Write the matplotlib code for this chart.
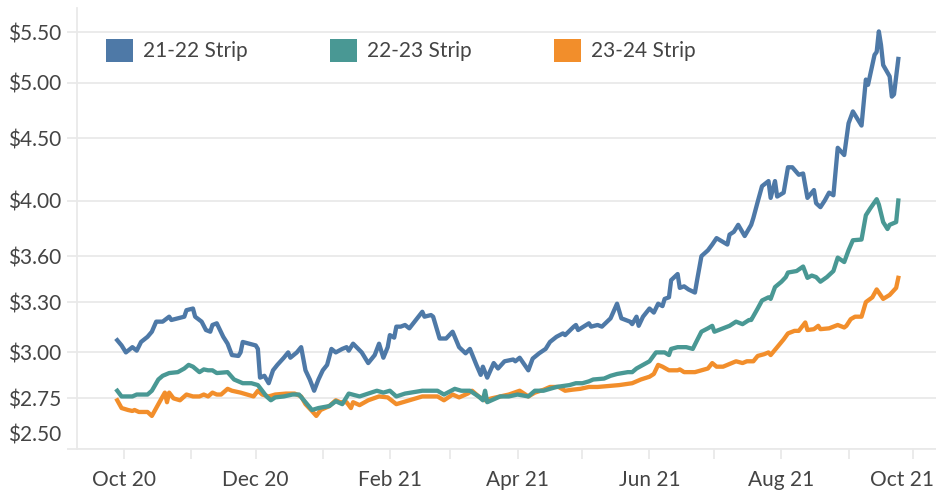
import numpy as np
import pandas as pd
import matplotlib
matplotlib.use('Agg')
import matplotlib.pyplot as plt
import matplotlib.dates as mdates
from matplotlib.patches import Patch
from matplotlib.ticker import FixedLocator, FuncFormatter, NullLocator
from matplotlib.transforms import ScaledTranslation

# 21-22 strip
daty_2122 = ['2020-09-28', '2020-09-30', '2020-10-02', '2020-10-05', '2020-10-07', '2020-10-09',
             '2020-10-12', '2020-10-14', '2020-10-16', '2020-10-19', '2020-10-22', '2020-10-23',
             '2020-10-26', '2020-10-29', '2020-10-30', '2020-11-02', '2020-11-03', '2020-11-06',
             '2020-11-08', '2020-11-10', '2020-11-11', '2020-11-13', '2020-11-16', '2020-11-18',
             '2020-11-20', '2020-11-23', '2020-11-24', '2020-11-25', '2020-11-28', '2020-12-01',
             '2020-12-02', '2020-12-03', '2020-12-05', '2020-12-07', '2020-12-09', '2020-12-11',
             '2020-12-14', '2020-12-16', '2020-12-17', '2020-12-20', '2020-12-22', '2020-12-24',
             '2020-12-26', '2020-12-28', '2020-12-30', '2021-01-01', '2021-01-03', '2021-01-05',
             '2021-01-07', '2021-01-10', '2021-01-12', '2021-01-13', '2021-01-15', '2021-01-19',
             '2021-01-22', '2021-01-25', '2021-01-27', '2021-01-29', '2021-01-31', '2021-02-01',
             '2021-02-03', '2021-02-04', '2021-02-06', '2021-02-08', '2021-02-10', '2021-02-13',
             '2021-02-16', '2021-02-17', '2021-02-20', '2021-02-21', '2021-02-24', '2021-02-27',
             '2021-03-02', '2021-03-05', '2021-03-08', '2021-03-10', '2021-03-13', '2021-03-15',
             '2021-03-16', '2021-03-18', '2021-03-21', '2021-03-23', '2021-03-26', '2021-03-30',
             '2021-03-31', '2021-04-02', '2021-04-06', '2021-04-08', '2021-04-11', '2021-04-14',
             '2021-04-16', '2021-04-19', '2021-04-22', '2021-04-23', '2021-04-27', '2021-04-28',
             '2021-04-29', '2021-05-04', '2021-05-05', '2021-05-08', '2021-05-10', '2021-05-14',
             '2021-05-17', '2021-05-19', '2021-05-23', '2021-05-24', '2021-05-26', '2021-05-27',
             '2021-05-29', '2021-06-01', '2021-06-03', '2021-06-05', '2021-06-07', '2021-06-08',
             '2021-06-10', '2021-06-11', '2021-06-14', '2021-06-15', '2021-06-17', '2021-06-19',
             '2021-06-22', '2021-06-23', '2021-06-25', '2021-06-28', '2021-06-30', '2021-07-02',
             '2021-07-07', '2021-07-08', '2021-07-10', '2021-07-12', '2021-07-15', '2021-07-18',
             '2021-07-19', '2021-07-21', '2021-07-23', '2021-07-26', '2021-07-27', '2021-07-29',
             '2021-07-30', '2021-08-02', '2021-08-04', '2021-08-06', '2021-08-09', '2021-08-11',
             '2021-08-13', '2021-08-16', '2021-08-17', '2021-08-19', '2021-08-21', '2021-08-23',
             '2021-08-25', '2021-08-27', '2021-08-30', '2021-09-01', '2021-09-03', '2021-09-07',
             '2021-09-09', '2021-09-10', '2021-09-13', '2021-09-14', '2021-09-15', '2021-09-16',
             '2021-09-17', '2021-09-20', '2021-09-21', '2021-09-22', '2021-09-24']
ceny_2122 = [3.07, 3.04, 3.00, 3.03, 3.01, 3.06,
             3.09, 3.12, 3.18, 3.18, 3.21, 3.19,
             3.20, 3.21, 3.25, 3.26, 3.21, 3.18,
             3.13, 3.12, 3.16, 3.17, 3.09, 3.05,
             2.985, 2.98, 3.00, 3.06, 3.05, 3.04,
             3.02, 2.86, 2.87, 2.83, 2.90, 2.93,
             2.97, 3.00, 2.97, 3.00, 3.03, 2.90,
             2.85, 2.79, 2.85, 2.90, 2.93, 3.02,
             3.00, 3.02, 3.03, 3.01, 3.05, 3.00,
             2.94, 2.985, 3.05, 2.97, 3.03, 3.10,
             3.085, 3.15, 3.15, 3.16, 3.14, 3.19,
             3.24, 3.21, 3.22, 3.21, 3.08, 3.08,
             3.12, 3.03, 2.995, 3.02, 2.93, 2.875,
             2.92, 2.86, 2.94, 2.91, 2.95, 2.96,
             2.95, 2.97, 2.90, 2.965, 2.995, 3.02,
             3.06, 3.09, 3.11, 3.10, 3.15, 3.16,
             3.13, 3.17, 3.15, 3.16, 3.15, 3.20,
             3.29, 3.20, 3.18, 3.165, 3.21, 3.155,
             3.21, 3.26, 3.235, 3.29, 3.275, 3.32,
             3.33, 3.44, 3.48, 3.39, 3.40, 3.38,
             3.36, 3.44, 3.60, 3.64, 3.68, 3.725,
             3.68, 3.75, 3.77, 3.82, 3.74, 3.82,
             3.87, 3.99, 4.11, 4.15, 4.02, 4.15,
             4.03, 4.06, 4.26, 4.26, 4.20, 4.21,
             4.02, 4.08, 3.98, 3.95, 4.00, 4.06,
             4.04, 4.42, 4.36, 4.63, 4.735, 4.61,
             5.03, 4.98, 5.27, 5.30, 5.51, 5.37,
             5.17, 5.06, 4.87, 4.89, 5.23]

# 22-23 strip
daty_2223 = ['2020-09-28', '2020-09-30', '2020-10-05', '2020-10-07', '2020-10-12', '2020-10-14',
             '2020-10-17', '2020-10-19', '2020-10-22', '2020-10-26', '2020-10-29', '2020-10-31',
             '2020-11-02', '2020-11-05', '2020-11-07', '2020-11-09', '2020-11-11', '2020-11-13',
             '2020-11-18', '2020-11-21', '2020-11-25', '2020-11-29', '2020-12-02', '2020-12-04',
             '2020-12-06', '2020-12-08', '2020-12-10', '2020-12-14', '2020-12-18', '2020-12-21',
             '2020-12-24', '2020-12-27', '2020-12-30', '2021-01-04', '2021-01-07', '2021-01-10',
             '2021-01-13', '2021-01-18', '2021-01-22', '2021-01-26', '2021-01-29', '2021-02-01',
             '2021-02-04', '2021-02-08', '2021-02-16', '2021-02-20', '2021-02-23', '2021-02-26',
             '2021-03-03', '2021-03-06', '2021-03-10', '2021-03-14', '2021-03-16', '2021-03-17',
             '2021-03-18', '2021-03-20', '2021-03-24', '2021-03-28', '2021-04-01', '2021-04-06',
             '2021-04-09', '2021-04-13', '2021-04-16', '2021-04-19', '2021-04-25', '2021-04-28',
             '2021-05-01', '2021-05-04', '2021-05-06', '2021-05-11', '2021-05-14', '2021-05-17',
             '2021-05-22', '2021-05-24', '2021-05-26', '2021-05-29', '2021-06-01', '2021-06-04',
             '2021-06-08', '2021-06-10', '2021-06-11', '2021-06-14', '2021-06-18', '2021-06-21',
             '2021-06-23', '2021-06-25', '2021-06-28', '2021-06-30', '2021-07-01', '2021-07-05',
             '2021-07-08', '2021-07-11', '2021-07-14', '2021-07-17', '2021-07-18', '2021-07-21',
             '2021-07-23', '2021-07-26', '2021-07-27', '2021-07-29', '2021-08-01', '2021-08-03',
             '2021-08-04', '2021-08-08', '2021-08-11', '2021-08-13', '2021-08-15', '2021-08-17',
             '2021-08-19', '2021-08-22', '2021-08-25', '2021-08-27', '2021-08-30', '2021-09-01',
             '2021-09-03', '2021-09-07', '2021-09-09', '2021-09-11', '2021-09-14', '2021-09-15',
             '2021-09-17', '2021-09-19', '2021-09-20', '2021-09-23', '2021-09-24']
ceny_2223 = [2.79, 2.76, 2.76, 2.77, 2.77, 2.79,
             2.85, 2.87, 2.885, 2.89, 2.91, 2.93,
             2.92, 2.89, 2.905, 2.90, 2.90, 2.885,
             2.89, 2.85, 2.83, 2.83, 2.82, 2.79,
             2.76, 2.74, 2.755, 2.76, 2.77, 2.77,
             2.73, 2.69, 2.70, 2.71, 2.735, 2.72,
             2.775, 2.76, 2.775, 2.79, 2.78, 2.79,
             2.76, 2.775, 2.79, 2.79, 2.79, 2.77,
             2.80, 2.79, 2.79, 2.76, 2.74, 2.79,
             2.73, 2.74, 2.76, 2.76, 2.77, 2.76,
             2.79, 2.79, 2.80, 2.81, 2.82, 2.83,
             2.83, 2.84, 2.85, 2.855, 2.87, 2.88,
             2.89, 2.89, 2.91, 2.93, 2.95, 3.00,
             3.00, 2.985, 3.02, 3.03, 3.03, 3.02,
             3.07, 3.12, 3.14, 3.155, 3.12, 3.14,
             3.155, 3.18, 3.165, 3.19, 3.19, 3.26,
             3.31, 3.33, 3.32, 3.395, 3.43, 3.46,
             3.49, 3.50, 3.53, 3.455, 3.47, 3.46,
             3.43, 3.46, 3.50, 3.59, 3.56, 3.64,
             3.71, 3.715, 3.89, 3.94, 4.01, 3.97,
             3.84, 3.79, 3.82, 3.84, 4.00]

# 23-24 strip
daty_2324 = ['2020-09-28', '2020-09-30', '2020-10-03', '2020-10-05', '2020-10-06', '2020-10-08',
             '2020-10-12', '2020-10-14', '2020-10-16', '2020-10-18', '2020-10-20', '2020-10-21',
             '2020-10-22', '2020-10-24', '2020-10-27', '2020-10-30', '2020-11-02', '2020-11-05',
             '2020-11-07', '2020-11-09', '2020-11-11', '2020-11-13', '2020-11-15', '2020-11-18',
             '2020-11-20', '2020-11-24', '2020-11-27', '2020-11-30', '2020-12-02', '2020-12-04',
             '2020-12-07', '2020-12-10', '2020-12-15', '2020-12-19', '2020-12-22', '2020-12-24',
             '2020-12-27', '2020-12-29', '2020-12-31', '2021-01-04', '2021-01-07', '2021-01-09',
             '2021-01-12', '2021-01-14', '2021-01-15', '2021-01-18', '2021-01-22', '2021-01-27',
             '2021-01-31', '2021-02-04', '2021-02-10', '2021-02-16', '2021-02-20', '2021-02-23',
             '2021-02-26', '2021-03-02', '2021-03-05', '2021-03-09', '2021-03-11', '2021-03-14',
             '2021-03-17', '2021-03-20', '2021-03-24', '2021-03-28', '2021-04-02', '2021-04-06',
             '2021-04-09', '2021-04-13', '2021-04-16', '2021-04-20', '2021-04-23', '2021-04-26',
             '2021-04-30', '2021-05-04', '2021-05-08', '2021-05-13', '2021-05-18', '2021-05-24',
             '2021-05-26', '2021-05-28', '2021-06-01', '2021-06-03', '2021-06-05', '2021-06-07',
             '2021-06-10', '2021-06-14', '2021-06-15', '2021-06-17', '2021-06-20', '2021-06-22',
             '2021-06-25', '2021-06-28', '2021-06-30', '2021-07-02', '2021-07-05', '2021-07-08',
             '2021-07-11', '2021-07-14', '2021-07-16', '2021-07-19', '2021-07-21', '2021-07-24',
             '2021-07-26', '2021-07-27', '2021-07-30', '2021-08-02', '2021-08-04', '2021-08-07',
             '2021-08-09', '2021-08-12', '2021-08-13', '2021-08-16', '2021-08-18', '2021-08-19',
             '2021-08-23', '2021-08-27', '2021-08-30', '2021-08-31', '2021-09-02', '2021-09-04',
             '2021-09-07', '2021-09-09', '2021-09-12', '2021-09-14', '2021-09-17', '2021-09-20',
             '2021-09-23', '2021-09-24']
ceny_2324 = [2.74, 2.70, 2.69, 2.685, 2.69, 2.68,
             2.68, 2.66, 2.70, 2.74, 2.78, 2.73,
             2.78, 2.75, 2.74, 2.77, 2.76, 2.76,
             2.77, 2.76, 2.78, 2.77, 2.77, 2.80,
             2.79, 2.78, 2.77, 2.76, 2.79, 2.77,
             2.76, 2.77, 2.775, 2.775, 2.76, 2.72,
             2.685, 2.66, 2.69, 2.71, 2.74, 2.73,
             2.73, 2.70, 2.73, 2.715, 2.74, 2.76,
             2.755, 2.72, 2.74, 2.76, 2.76, 2.76,
             2.74, 2.77, 2.755, 2.775, 2.79, 2.76,
             2.74, 2.75, 2.76, 2.77, 2.79, 2.76,
             2.78, 2.795, 2.81, 2.81, 2.79, 2.795,
             2.80, 2.81, 2.81, 2.815, 2.82, 2.83,
             2.84, 2.85, 2.865, 2.88, 2.93, 2.92,
             2.90, 2.90, 2.905, 2.89, 2.89, 2.89,
             2.90, 2.91, 2.94, 2.92, 2.92, 2.935,
             2.95, 2.94, 2.95, 2.95, 2.98, 2.99,
             3.00, 2.985, 3.03, 3.075, 3.11, 3.125,
             3.125, 3.175, 3.13, 3.135, 3.155, 3.135,
             3.14, 3.16, 3.145, 3.155, 3.195, 3.21,
             3.21, 3.30, 3.33, 3.38, 3.32, 3.345,
             3.39, 3.455]

nazwy = ['21-22 Strip', '22-23 Strip', '23-24 Strip']
kolory = ['#4e79a7', '#499894', '#f28e2b']
yticks = [2.50, 2.75, 3.00, 3.30, 3.60, 4.00, 4.50, 5.00, 5.50]

plt.rcParams['font.family'] = ['Lato', 'DejaVu Sans']
szary = '#e9e9e9'
tekst = '#444444'

fig = plt.figure(figsize=(9.36, 4.93), dpi=100)
ax = fig.add_axes([0.0823, 0.0899, 0.9177, 0.8939])

serie = [(daty_2324, ceny_2324, 2), (daty_2223, ceny_2223, 1), (daty_2122, ceny_2122, 0)]
for d, c, i in serie:
    ax.plot(pd.to_datetime(d), c, color=kolory[i], lw=3.1, solid_joinstyle='round')

ax.set_yscale('log')
ax.set_ylim(2.5, 5.76)
ax.yaxis.set_major_locator(FixedLocator(yticks))
ax.yaxis.set_minor_locator(NullLocator())
ax.yaxis.set_major_formatter(FuncFormatter(lambda v, p: '${:.2f}'.format(v)))
ax.set_xlim(pd.Timestamp('2020-09-09 10:00'), pd.Timestamp('2021-10-11 10:00'))
ax.xaxis.set_major_locator(mdates.MonthLocator(bymonth=[2, 4, 6, 8, 10, 12]))
ax.xaxis.set_minor_locator(mdates.MonthLocator())
ax.xaxis.set_major_formatter(mdates.DateFormatter('%b %y'))

ax.grid(axis='y', color=szary, lw=1.3)
ax.set_axisbelow(True)
for s in ['top', 'right']:
    ax.spines[s].set_visible(False)
for s in ['left', 'bottom']:
    ax.spines[s].set_color(szary)
    ax.spines[s].set_linewidth(1.3)
ax.tick_params(axis='y', length=7, width=1.3, color=szary, labelsize=15, labelcolor=tekst, pad=4)
ax.tick_params(axis='x', which='both', length=7, width=1.3, color=szary, labelsize=15,
               labelcolor=tekst, pad=8)

# ostatnie etykiety przesuniete do srodka jak w tableau
fig.canvas.draw()
for lab in ax.get_yticklabels():
    if lab.get_text() == '$2.50':
        lab.set_transform(lab.get_transform() + ScaledTranslation(0, 0.155, fig.dpi_scale_trans))
for lab in ax.get_xticklabels():
    if lab.get_text() == 'Oct 21':
        lab.set_transform(lab.get_transform() + ScaledTranslation(-0.11, 0, fig.dpi_scale_trans))

uchwyty = [Patch(facecolor=k, edgecolor='none') for k in kolory]
ax.legend(uchwyty, nazwy, loc='upper left', bbox_to_anchor=(0.0338, 0.9297), ncol=3, frameon=False,
          fontsize=15, labelcolor=tekst, handlelength=1.3, handleheight=1.3, handletextpad=0.48,
          columnspacing=3.95, borderaxespad=0, borderpad=0)

fig.savefig('out.png', dpi=100, facecolor='white')
